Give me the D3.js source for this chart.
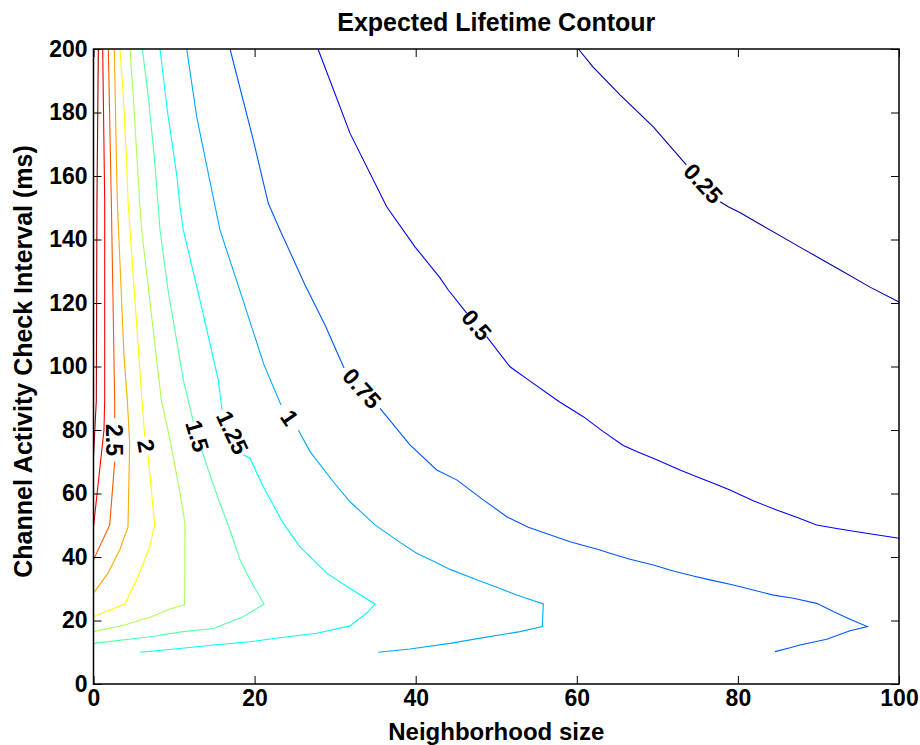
<!DOCTYPE html>
<html>
<head>
<meta charset="utf-8">
<script src="https://cdn.jsdelivr.net/npm/d3@7"></script>
<style>
  html, body { margin: 0; padding: 0; background: #fff; }
  svg { display: block; }
  text { font-family: "Liberation Sans", Arial, Helvetica, sans-serif; font-weight: bold; fill: #000; }
</style>
</head>
<body>
<svg id="chart" width="920" height="745"></svg>
<script>
// Contour levels of expected lifetime and the tick values of both axes
const LEVELS = [0.25, 0.5, 0.75, 1, 1.25, 1.5, 1.75, 2, 2.25, 2.5, 2.75, 3];
const X_TICKS = [0, 20, 40, 60, 80, 100];
const Y_TICKS = [0, 20, 40, 60, 80, 100, 120, 140, 160, 180, 200];

// Each contour is a list of pieces [neighborhood size, check interval (ms)];
// the break between two pieces of the same level holds its inline label.
const C_025 = [
  [[60.2,200],[62.0,194.4],[65.4,185.5],[69.5,175.5],[73.6,163.5]],
  [[77.8,151.9],[78.8,150.3],[80.3,148.4],[82.7,144.9],[87.7,137.6],[92.7,130.4],[96.4,125.0],[100,120.3]]
];
const C_050 = [
  [[27.87,200],[31.84,173.5],[36.40,150.3],[39.91,137.7],[43.02,127.9],[44.05,124.1],[46.33,116.8]],
  [[48.81,109.4],[51.71,99.9],[53.98,95.8],[57.83,88.9],[60.81,84.2],[63.29,79.5],[65.77,75.1],[67.44,73.2],
   [69.92,70.6],[72.81,67.4],[74.89,65.3],[76.95,63.2],[79.02,61.1],[81.91,57.7],[84.82,54.8],[87.30,52.5],
   [89.78,50.1],[92.27,49.0],[95.16,47.8],[100,45.9]]
];
const C_075 = [
  [[16.95,200],[19.84,171.3],[21.70,151.4],[23.15,143.0],[26.26,125.7],[28.74,113.1],[31.10,99.5]],
  [[35.57,86.8],[39.29,75.3],[42.61,67.4],[45.09,64.3],[48.39,58.0],[51.30,52.7],[53.98,49.4],[59.16,44.8],
   [62.88,42.2],[64.12,41.2],[66.61,39.3],[69.50,37.5],[71.98,35.6],[74.46,34.0],[76.54,32.8],[79.43,31.2],
   [81.91,29.6],[84.40,28.0],[86.88,27.0],[89.78,25.4],[91.84,22.8],[93.92,20.4],[96.07,18.1],[93.92,16.8],
   [91.02,14.1],[87.71,12.3],[86.47,11.4],[84.61,10.2]]
];
const C_100 = [
  [[11.57,200],[12.81,178.7],[14.25,160.8],[15.70,143.0],[18.56,120.9],[21.17,100.5],[23.28,87.9]],
  [[25.43,80.0],[26.88,73.2],[29.77,63.7],[31.84,57.4],[34.95,50.1],[38.05,44.6],[40.12,41.2],[42.61,38.2],
   [44.26,36.1],[47.57,32.8],[50.47,30.1],[52.54,28.0],[55.84,25.2],[55.72,18.1],[52.95,16.5],[48.39,14.6],
   [44.26,12.8],[39.29,11.0],[36.81,10.4],[35.36,10.0]]
];
const C_125 = [
  [[8.26,200],[9.16,180.8],[10.33,160.3],[10.74,150.3],[11.15,143.0],[13.22,120.9],[15.49,95.8],[15.95,86.3]],
  [[18.60,72.1],[19.43,71.1],[21.08,62.1],[23.56,50.6],[25.64,43.2],[28.95,34.9],[31.84,30.1],[34.95,25.2],
   [34.12,22.8],[31.84,18.3],[27.71,16.0],[23.56,14.7],[19.43,13.3],[14.87,12.3],[10.74,11.2],[5.77,10.0]]
];
const C_150 = [
  [[6.06,200],[6.80,185.0],[7.51,167.1],[8.04,150.3],[8.26,143.0],[9.25,124.1],[11.15,95.8],[12.39,82.6]],
  [[13.43,73.7],[14.67,64.3],[15.70,56.9],[16.95,48.5],[18.19,39.1],[19.43,32.8],[21.17,25.2],[18.60,21.2],
   [14.87,17.5],[11.15,16.5],[7.01,14.9],[0,12.8]]
];
const C_175 = [
  [[4.53,200],[4.94,185.0],[5.44,164.0],[5.77,150.3],[5.98,143.0],[8.42,89.5],[9.50,76.9],[10.74,60.1],
   [11.36,50.6],[11.32,24.9],[9.66,23.8],[7.18,21.2],[3.87,18.6],[0,16.5]]
];
const C_200 = [
  [[3.29,200],[3.70,185.0],[4.12,164.0],[4.28,152.4],[4.53,143.0],[5.93,92.6],[6.36,77.9]],
  [[6.77,72.1],[7.60,50.1],[6.98,43.2],[5.52,33.8],[3.87,25.1],[2.01,23.3],[0,21.2]]
];
const C_225 = [
  [[2.58,200],[2.95,152.4],[3.79,103.1],[4.20,89.4],[4.49,75.8],[4.28,49.5],[3.25,42.2],[1.80,34.9],[0,28.6]]
];
const C_250 = [
  [[1.84,200],[2.21,152.4],[2.63,89.4],[2.63,83.7]],
  [[2.63,70.0],[2.01,50.1],[0,39.1]]
];
const C_275 = [
  [[1.14,200],[1.39,152.4],[1.39,89.4],[1.30,80.0],[0,49.5]]
];
const C_300 = [
  [[0.60,200],[0.43,152.4],[0.35,89.4],[0,71.5]]
];
const CONTOURS = [C_025, C_050, C_075, C_100, C_125, C_150, C_175, C_200, C_225, C_250, C_275, C_300];
const LABELED = [0.25, 0.5, 0.75, 1, 1.25, 1.5, 2, 2.5];

const svg = d3.select("#chart");
const W = 920, H = 745;
const margin = { left: 93.5, right: 21, top: 49, bottom: 61 };

const x = d3.scaleLinear().domain([0, 100]).range([margin.left, W - margin.right]);
const y = d3.scaleLinear().domain([0, 200]).range([H - margin.bottom, margin.top]);

// MATLAB-style jet colormap mapped over the level range
const cmin = 0.125, cmax = 3.125;
function jet(v) {
  const t = (v - cmin) / (cmax - cmin);
  const c = u => Math.max(0, Math.min(1, u));
  const r = c(Math.min(4 * t - 1.5, -4 * t + 4.5));
  const g = c(Math.min(4 * t - 0.5, -4 * t + 3.5));
  const b = c(Math.min(4 * t + 0.5, -4 * t + 2.5));
  return d3.rgb(r * 255, g * 255, b * 255).toString();
}

const line = d3.line().x(d => x(d[0])).y(d => y(d[1]));

// contour lines
const gLines = svg.append("g").attr("fill", "none").attr("stroke-width", 1.1);
LEVELS.forEach((lev, i) => {
  CONTOURS[i].forEach(piece => {
    gLines.append("path").attr("d", line(piece)).attr("stroke", jet(lev));
  });
});

// inline labels sitting in the breaks of the labelled contours
const gLab = svg.append("g");
LEVELS.forEach((lev, i) => {
  if (!LABELED.includes(lev)) return;
  const pieces = CONTOURS[i];
  for (let k = 0; k + 1 < pieces.length; k++) {
    const a = pieces[k][pieces[k].length - 1];
    const b = pieces[k + 1][0];
    const ax = x(a[0]), ay = y(a[1]), bx = x(b[0]), by = y(b[1]);
    let ang = Math.atan2(by - ay, bx - ax) * 180 / Math.PI;
    if (ang > 90.5) ang -= 180;
    if (ang <= -89.5) ang += 180;
    const cx = (ax + bx) / 2, cy = (ay + by) / 2;
    gLab.append("text")
      .attr("transform", `translate(${cx},${cy}) rotate(${ang})`)
      .attr("text-anchor", "middle")
      .attr("dy", "0.36em")
      .attr("font-size", 23)
      .text(d3.format("")(lev));
  }
});

// axes with inward ticks on all four sides
const tick = 8;
const gx = svg.append("g").attr("transform", `translate(0,${y(0)})`)
  .call(d3.axisBottom(x).tickValues(X_TICKS).tickSize(-tick).tickPadding(6).tickFormat(d3.format("d")));
const gxt = svg.append("g").attr("transform", `translate(0,${y(200)})`)
  .call(d3.axisTop(x).tickValues(X_TICKS).tickSize(-tick).tickFormat(""));
const gy = svg.append("g").attr("transform", `translate(${x(0)},0)`)
  .call(d3.axisLeft(y).tickValues(Y_TICKS).tickSize(-tick).tickPadding(6).tickFormat(d3.format("d")));
const gyr = svg.append("g").attr("transform", `translate(${x(100)},0)`)
  .call(d3.axisRight(y).tickValues(Y_TICKS).tickSize(-tick).tickFormat(""));

[gx, gxt, gy, gyr].forEach(g => {
  g.select(".domain").remove();
  g.selectAll(".tick line").attr("stroke", "#000").attr("stroke-width", 1);
  g.selectAll(".tick text").attr("font-size", 23).attr("fill", "#000")
    .attr("font-family", "'Liberation Sans', Arial, sans-serif").attr("font-weight", "bold");
});

// plot frame
svg.append("rect")
  .attr("x", x(0)).attr("y", y(200))
  .attr("width", x(100) - x(0)).attr("height", y(0) - y(200))
  .attr("fill", "none").attr("stroke", "#000").attr("stroke-width", 1.5);

// title and axis labels
svg.append("text").attr("x", (x(0) + x(100)) / 2).attr("y", 31)
  .attr("text-anchor", "middle").attr("font-size", 25)
  .text("Expected Lifetime Contour");
svg.append("text").attr("x", (x(0) + x(100)) / 2).attr("y", 740)
  .attr("text-anchor", "middle").attr("font-size", 24)
  .text("Neighborhood size");
svg.append("text")
  .attr("transform", `translate(32,${(y(0) + y(200)) / 2 - 5}) rotate(-90)`)
  .attr("text-anchor", "middle").attr("font-size", 25)
  .text("Channel Activity Check Interval (ms)");
</script>
</body>
</html>
